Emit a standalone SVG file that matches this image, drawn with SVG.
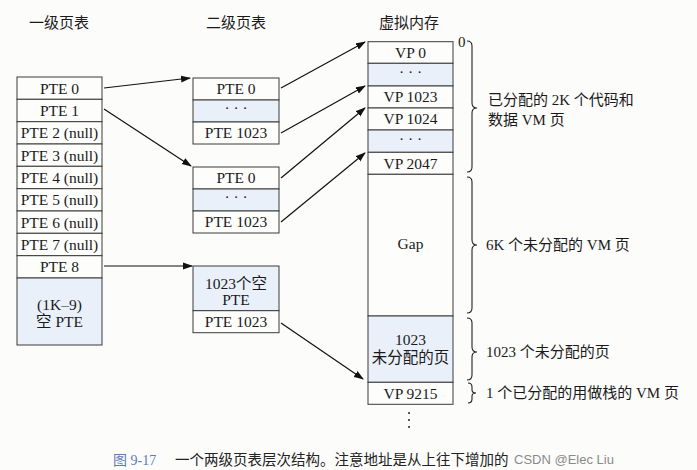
<svg xmlns="http://www.w3.org/2000/svg" width="697" height="470" viewBox="0 0 697 470">
<defs>
<marker id="ah" markerWidth="10" markerHeight="8" refX="9" refY="4" orient="auto" markerUnits="userSpaceOnUse">
<path d="M0,0.5 L10,4 L0,7.5 Z" fill="#111"/>
</marker>
<style>
.cell{fill:#fdfdfc;stroke:#3a3a3a;stroke-width:1}
.blue{fill:#e9f0f9;stroke:#3a3a3a;stroke-width:1}
.t{font-family:"Liberation Serif","Noto Sans CJK SC",serif;font-size:15.5px;fill:#1a1a1a;text-anchor:middle}
.h{font-family:"Noto Sans CJK SC",sans-serif;font-size:15px;fill:#1a1a1a;text-anchor:middle}
.r{font-family:"Liberation Serif","Noto Sans CJK SC",serif;font-size:15px;fill:#1a1a1a}
.c{stroke:#111;stroke-width:1.2;fill:none;marker-end:url(#ah)}
.b{stroke:#222;stroke-width:1.1;fill:none}
</style>
</defs>
<rect width="697" height="470" fill="#fcfcfa"/>

<g id="headers">
<text class="h" x="59" y="28">一级页表</text>
<text class="h" x="236" y="28">二级页表</text>
<text class="h" x="409" y="28">虚拟内存</text>
</g>

<g id="level1">
<rect class="cell" x="17" y="77" width="85" height="22.3"/><text class="t" x="59.5" y="93.5">PTE 0</text>
<rect class="cell" x="17" y="99.3" width="85" height="22.4"/><text class="t" x="59.5" y="115.8">PTE 1</text>
<rect class="cell" x="17" y="121.7" width="85" height="22.3"/><text class="t" x="59.5" y="138">PTE 2 (null)</text>
<rect class="cell" x="17" y="144" width="85" height="22.3"/><text class="t" x="59.5" y="160.5">PTE 3 (null)</text>
<rect class="cell" x="17" y="166.3" width="85" height="22.4"/><text class="t" x="59.5" y="182.8">PTE 4 (null)</text>
<rect class="cell" x="17" y="188.7" width="85" height="22.3"/><text class="t" x="59.5" y="205">PTE 5 (null)</text>
<rect class="cell" x="17" y="211" width="85" height="22.3"/><text class="t" x="59.5" y="227.5">PTE 6 (null)</text>
<rect class="cell" x="17" y="233.3" width="85" height="22.4"/><text class="t" x="59.5" y="249.8">PTE 7 (null)</text>
<rect class="cell" x="17" y="255.7" width="85" height="22.3"/><text class="t" x="59.5" y="272">PTE 8</text>
<rect class="blue" x="17" y="278" width="85" height="67"/>
<text class="t" x="59.5" y="310">(1K–9)</text>
<text class="t" x="59.5" y="327">空 PTE</text>
</g>

<g id="level2a">
<rect class="cell" x="193" y="78" width="86" height="22"/><text class="t" x="236" y="94">PTE 0</text>
<rect class="blue" x="193" y="100" width="86" height="22"/><text class="t" x="236" y="113">· · ·</text>
<rect class="cell" x="193" y="122" width="86" height="22"/><text class="t" x="236" y="138">PTE 1023</text>
</g>

<g id="level2b">
<rect class="cell" x="193" y="167" width="86" height="22"/><text class="t" x="236" y="183">PTE 0</text>
<rect class="blue" x="193" y="189" width="86" height="22"/><text class="t" x="236" y="202">· · ·</text>
<rect class="cell" x="193" y="211" width="86" height="22"/><text class="t" x="236" y="227">PTE 1023</text>
</g>

<g id="level2c">
<rect class="blue" x="193" y="266" width="86" height="44.7"/>
<text class="t" x="236" y="288.5">1023个空</text>
<text class="t" x="236" y="305">PTE</text>
<rect class="cell" x="193" y="310.7" width="86" height="22"/><text class="t" x="236" y="327">PTE 1023</text>
</g>

<g id="vm">
<rect class="cell" x="368" y="41.7" width="85" height="21.6"/><text class="t" x="410.5" y="57.5">VP 0</text>
<rect class="blue" x="368" y="63.3" width="85" height="22.7"/><text class="t" x="410.5" y="77">· · ·</text>
<rect class="cell" x="368" y="86" width="85" height="22"/><text class="t" x="410.5" y="102">VP 1023</text>
<rect class="cell" x="368" y="108" width="85" height="22"/><text class="t" x="410.5" y="124">VP 1024</text>
<rect class="blue" x="368" y="130" width="85" height="22.3"/><text class="t" x="410.5" y="143.5">· · ·</text>
<rect class="cell" x="368" y="152.3" width="85" height="22"/><text class="t" x="410.5" y="168.5">VP 2047</text>
<rect class="cell" x="368" y="174.3" width="85" height="141.7"/><text class="t" x="410.5" y="248.5">Gap</text>
<rect class="blue" x="368" y="316" width="85" height="66.3"/>
<text class="t" x="410.5" y="345">1023</text>
<text class="t" x="410.5" y="363">未分配的页</text>
<rect class="cell" x="368" y="382.3" width="85" height="22"/><text class="t" x="410.5" y="398.5">VP 9215</text>
<circle cx="409" cy="413" r="1" fill="#222"/>
<circle cx="409" cy="420" r="1" fill="#222"/>
<circle cx="409" cy="427" r="1" fill="#222"/>
</g>

<g id="connectors">
<line class="c" x1="104" y1="88" x2="190" y2="78"/>
<line class="c" x1="104" y1="109" x2="191" y2="166"/>
<line class="c" x1="104" y1="266" x2="192" y2="266"/>
<line class="c" x1="281" y1="88" x2="365" y2="42"/>
<line class="c" x1="281" y1="133" x2="365" y2="86"/>
<line class="c" x1="281" y1="178" x2="365" y2="108"/>
<line class="c" x1="281" y1="222" x2="365" y2="153"/>
<line class="c" x1="281" y1="323" x2="363" y2="379"/>
</g>

<g id="braces">
<text class="r" x="458" y="47" font-size="13">0</text>
<path class="b" d="M467,41 Q472,41 472,46 L472,103 Q472,108 477,108 Q472,108 472,113 L472,167 Q472,172 467,172"/>
<path class="b" d="M467,177 Q472,177 472,182 L472,240 Q472,245 477,245 Q472,245 472,250 L472,308 Q472,313 467,313"/>
<path class="b" d="M467,318 Q472,318 472,323 L472,347 Q472,352 477,352 Q472,352 472,357 L472,375 Q472,380 467,380"/>
<path class="b" d="M468,383 Q472,383 472,387 L472,390 Q472,393 476,393 Q472,393 472,396 L472,399 Q472,403 468,403"/>
</g>

<g id="labels">
<text class="r" x="488" y="105">已分配的 2K 个代码和</text>
<text class="r" x="488" y="125">数据 VM 页</text>
<text class="r" x="486" y="250">6K 个未分配的 VM 页</text>
<text class="r" x="486" y="357">1023 个未分配的页</text>
<text class="r" x="486" y="398">1 个已分配的用做栈的 VM 页</text>
</g>

<g id="caption">
<text x="113" y="465" font-family="'Liberation Serif','Noto Sans CJK SC',serif" font-size="14" fill="#5b7bb5">图 9-17</text>
<text x="175" y="465" font-family="'Noto Sans CJK SC',sans-serif" font-size="14.5" fill="#222">一个两级页表层次结构。注意地址是从上往下增加的</text>
<text x="514" y="464" font-family="'Liberation Sans',sans-serif" font-size="13" fill="#8a8a8a">CSDN @Elec Liu</text>
</g>
</svg>
